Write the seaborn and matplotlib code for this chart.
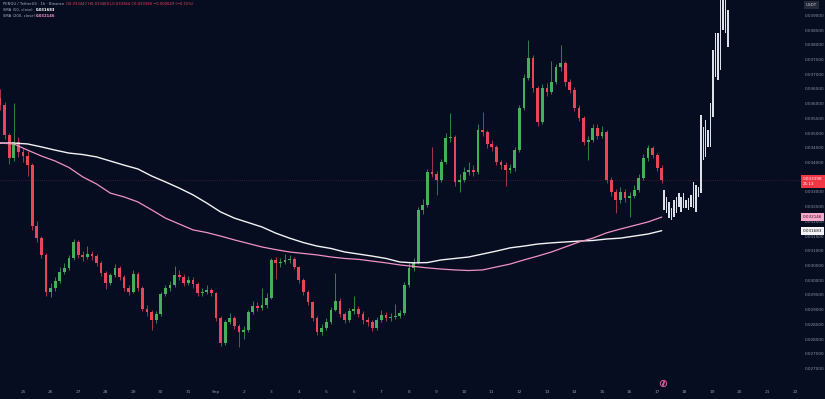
import numpy as np
import pandas as pd
import matplotlib
matplotlib.use("Agg")
import matplotlib.pyplot as plt
import matplotlib.dates as mdates
import matplotlib.transforms as mtransforms
import seaborn as sns

# PENGU/USDT, 4h candles, prices in units of 1e-5 USDT
open_first = 3620
close_e5 = [3595, 3493, 3415, 3470, 3436, 3422, 3391, 3184, 3144, 3086,
            2960, 2974, 2997, 3028, 3042, 3076, 3130, 3086, 3079, 3089,
            3082, 3059, 3025, 2991, 3018, 3042, 3011, 2974, 2960, 3021,
            2974, 2902, 2892, 2865, 2885, 2953, 2974, 2984, 3018, 3012,
            2991, 3001, 2987, 2957, 2960, 2966, 2955, 2872, 2787, 2858,
            2872, 2845, 2824, 2830, 2892, 2913, 2906, 2916, 2940, 3069,
            3059, 3062, 3069, 3072, 3045, 3001, 2960, 2926, 2872, 2824,
            2838, 2858, 2899, 2930, 2885, 2865, 2896, 2902, 2885, 2865,
            2858, 2838, 2865, 2882, 2872, 2876, 2879, 2889, 2984, 3042,
            3062, 3239, 3256, 3368, 3360, 3341, 3402, 3483, 3487, 3334,
            3341, 3368, 3375, 3368, 3510, 3505, 3463, 3453, 3402, 3391,
            3375, 3380, 3442, 3585, 3687, 3755, 3653, 3538, 3653, 3640,
            3673, 3724, 3738, 3673, 3646, 3585, 3551, 3470, 3476, 3517,
            3490, 3504, 3341, 3300, 3273, 3300, 3279, 3286, 3307, 3347,
            3415, 3449, 3425, 3381, 3339.8]
high_e5 = [3650, 3605, 3500, 3602, 3485, 3450, 3440, 3398, 3200, 3150,
           3092, 2990, 3010, 3045, 3060, 3085, 3140, 3135, 3100, 3115,
           3098, 3090, 3065, 3030, 3025, 3055, 3048, 3018, 2985, 3035,
           3028, 2980, 2915, 2898, 2895, 2960, 2985, 2998, 3050, 3035,
           3020, 3015, 3010, 2995, 2975, 2985, 2975, 2960, 2878, 2866,
           2890, 2880, 2852, 2845, 2900, 2930, 2925, 2975, 2955, 3075,
           3080, 3075, 3088, 3085, 3078, 3050, 3008, 2968, 2930, 2878,
           2850, 2872, 2910, 3024, 2940, 2892, 2905, 2945, 2912, 2895,
           2875, 2866, 2875, 2900, 2892, 2888, 2920, 2900, 2995, 3060,
           3075, 3248, 3275, 3378, 3452, 3372, 3412, 3500, 3567, 3495,
           3360, 3385, 3400, 3390, 3530, 3570, 3512, 3475, 3460, 3410,
           3400, 3395, 3452, 3595, 3700, 3816, 3765, 3660, 3665, 3670,
           3745, 3735, 3800, 3745, 3685, 3655, 3595, 3558, 3490, 3530,
           3530, 3525, 3512, 3350, 3310, 3318, 3310, 3300, 3322, 3360,
           3428, 3460, 3455, 3432, 3390]
low_e5 = [3580, 3480, 3395, 3405, 3420, 3400, 3355, 3170, 3130, 3075,
          2945, 2943, 2965, 2990, 3020, 3035, 3070, 3075, 3065, 3072,
          3070, 3050, 3015, 2970, 2985, 3010, 3000, 2962, 2950, 2955,
          2965, 2895, 2880, 2832, 2855, 2880, 2945, 2965, 2978, 3000,
          2980, 2985, 2975, 2945, 2948, 2952, 2945, 2860, 2775, 2780,
          2850, 2835, 2773, 2800, 2825, 2885, 2895, 2898, 2905, 2935,
          3005, 3045, 3055, 3060, 3038, 2990, 2950, 2915, 2860, 2815,
          2815, 2830, 2850, 2895, 2875, 2855, 2858, 2885, 2875, 2852,
          2845, 2828, 2832, 2858, 2862, 2862, 2868, 2872, 2882, 2978,
          3030, 3055, 3225, 3250, 3350, 3290, 3335, 3395, 3470, 3320,
          3300, 3335, 3358, 3355, 3362, 3490, 3450, 3440, 3390, 3378,
          3320, 3365, 3372, 3435, 3578, 3680, 3640, 3525, 3530, 3625,
          3632, 3665, 3712, 3660, 3635, 3575, 3540, 3458, 3410, 3468,
          3480, 3482, 3330, 3285, 3230, 3262, 3265, 3215, 3278, 3300,
          3340, 3405, 3415, 3372, 3330]

# moving averages, read every 12h
sma_white_e5 = [3466, 3466, 3463, 3453, 3442, 3432, 3427, 3419, 3405, 3391,
                3378, 3354, 3334, 3313, 3290, 3262, 3232, 3211, 3196, 3181,
                3160, 3143, 3128, 3116, 3108, 3096, 3089, 3082, 3074, 3062,
                3059, 3060, 3069, 3074, 3079, 3089, 3099, 3110, 3116, 3123,
                3127, 3130, 3133, 3135, 3140, 3143, 3150, 3157, 3168.3]
sma_pink_e5 = [3466, 3463, 3442, 3422, 3405, 3383, 3351, 3327, 3296, 3283,
               3266, 3239, 3211, 3191, 3171, 3162, 3150, 3137, 3125, 3113,
               3104, 3096, 3091, 3086, 3079, 3074, 3071, 3065, 3059, 3052,
               3047, 3042, 3038, 3035, 3033, 3035, 3045, 3055, 3069, 3082,
               3096, 3113, 3130, 3143, 3161, 3174, 3186, 3198, 3214.6]

# projected bars pattern (white), high / low
proj_high_e5 = [3307, 3283, 3266, 3245, 3273, 3283, 3296, 3283, 3296, 3273,
                3279, 3290, 3334, 3324, 3317, 3561, 3521, 3544, 3510, 3602,
                3782, 3840, 3840, 3990, 3990, 3990, 3918]
proj_low_e5 = [3239, 3228, 3211, 3205, 3215, 3228, 3249, 3232, 3245, 3245,
               3239, 3249, 3245, 3232, 3283, 3296, 3408, 3419, 3453, 3453,
               3555, 3690, 3680, 3714, 3850, 3840, 3792]

BG = "#070d21"
UP = "#45b05c"
DOWN = "#e8445a"
PINK = "#ef92c2"
TICK = "#8f96aa"

close = np.array(close_e5) / 1e5
high = np.array(high_e5) / 1e5
low = np.array(low_e5) / 1e5
opens = np.concatenate([[open_first / 1e5], close[:-1]])
white = np.array(sma_white_e5) / 1e5
pink = np.array(sma_pink_e5) / 1e5

t = pd.date_range("2025-08-24 04:00", periods=len(close), freq="4h")
x = mdates.date2num(t)
x_ma = x[::3]
x_proj = mdates.date2num(pd.date_range("2025-09-17 06:00", periods=len(proj_high_e5), freq="128min"))

sns.set_style("dark", {"axes.facecolor": BG, "figure.facecolor": BG, "axes.grid": False})
plt.rcParams['font.family'] = ['DejaVu Sans']

fig = plt.figure(figsize=(8.25, 3.99), dpi=100)
ax = fig.add_axes([0, 17 / 399, 800 / 825, 382 / 399])

# candles
colors = np.where(close >= opens, UP, DOWN)
ax.vlines(x, low, high, colors=colors, linewidth=0.5, zorder=2)
body = np.maximum(np.abs(close - opens), 0.000012)
ax.bar(x, body, bottom=np.minimum(opens, close), width=0.1, color=colors, linewidth=0, zorder=3)

# bars pattern
ph = np.array(proj_high_e5) / 1e5
pl = np.array(proj_low_e5) / 1e5
ax.bar(x_proj, ph - pl, bottom=pl, width=0.055, color="#dde0e8", linewidth=0, zorder=3)

# moving averages
sns.lineplot(x=x_ma, y=white, ax=ax, color="#f2f2f4", linewidth=1.0, zorder=4)
sns.lineplot(x=x_ma, y=pink, ax=ax, color=PINK, linewidth=0.9, zorder=4)

# last price line
ax.axhline(close[-1], color=DOWN, linewidth=0.5, linestyle=(0, (1, 2)), alpha=0.45, zorder=1)

day0 = mdates.date2num(pd.Timestamp("2025-08-25"))
ax.set_xlim(day0 - 0.834, day0 + 28.18)
ax.set_ylim(0.026543, 0.03952)

days = pd.date_range("2025-08-25", "2025-09-22", freq="D")
ax.set_xticks(mdates.date2num(days))
ax.set_xticklabels(["Sep" if d.day == 1 else str(d.day) for d in days])
yt = np.arange(0.027, 0.03901, 0.0005)
ax.set_yticks(yt)
# the 0.033500 label sits under the live price tag
ax.set_yticklabels(["" if abs(v - 0.0335) < 1e-7 else f"{v:.6f}" for v in yt])
ax.yaxis.tick_right()
ax.tick_params(axis="x", length=0, pad=6, labelsize=3.2, labelcolor=TICK)
ax.tick_params(axis="y", length=0, pad=3.5, labelsize=3.0, labelcolor=TICK)
for s in ax.spines.values():
    s.set_visible(False)
ax.set_xlabel("")
ax.set_ylabel("")

# price scale labels
blend = mtransforms.blended_transform_factory(ax.transAxes, ax.transData)
ax.annotate(f"{close[-1]:.6f}\n21:13", xy=(1, close[-1]), xycoords=blend, xytext=(2.2, 2.4),
            textcoords="offset points", ha="left", va="top", fontsize=3.0, color="white",
            linespacing=1.25, annotation_clip=False, zorder=10,
            bbox=dict(boxstyle="square,pad=0.45", fc="#f23645", ec="none"))
ax.annotate(f"{pink[-1]:.6f}", xy=(1, pink[-1]), xycoords=blend, xytext=(2.2, 0),
            textcoords="offset points", ha="left", va="center", fontsize=3.0, color="#3a0d22",
            annotation_clip=False, zorder=10,
            bbox=dict(boxstyle="square,pad=0.45", fc="#f4a9cb", ec="none"))
ax.annotate(f"{white[-1]:.6f}", xy=(1, white[-1]), xycoords=blend, xytext=(2.2, 0),
            textcoords="offset points", ha="left", va="center", fontsize=3.0, color="#111111",
            annotation_clip=False, zorder=10,
            bbox=dict(boxstyle="square,pad=0.45", fc="#f4f4f6", ec="none"))

fig.text(806 / 825, 1 - 5 / 399, "USDT", fontsize=3.0, color="#c8ccd6", ha="left", va="center",
         bbox=dict(boxstyle="square,pad=0.4", fc="#252a38", ec="none"))

# legend header
HF = 2.7
fig.text(3 / 825, 1 - 4 / 399, "PENGU / TetherUS · 1h · Binance", fontsize=HF, color="#aab0c0", va="center")
fig.text(66 / 825, 1 - 4 / 399, "O0.033447 H0.033469 L0.033364 C0.033398 −0.000049 (−0.15%)",
         fontsize=HF, color=DOWN, va="center")
fig.text(3 / 825, 1 - 10 / 399, "SMA (50, close)", fontsize=HF, color="#aab0c0", va="center")
fig.text(36 / 825, 1 - 10 / 399, f"{white[-1]:.6f}", fontsize=HF, color="white", weight="bold", va="center")
fig.text(3 / 825, 1 - 16 / 399, "SMA (200, close)", fontsize=HF, color="#aab0c0", va="center")
fig.text(36 / 825, 1 - 16 / 399, f"{pink[-1]:.6f}", fontsize=HF, color=PINK, weight="bold", va="center")

# jump-to-realtime icon
fig.add_artist(plt.Line2D([663 / 825], [1 - 383 / 399], marker="o", markersize=4.5, mfc="none",
                          mec="#e05a9a", mew=0.7, transform=fig.transFigure))
fig.add_artist(plt.Line2D([663 / 825], [1 - 383 / 399], marker="$/$", markersize=2.5,
                          color="#e05a9a", transform=fig.transFigure))

fig.savefig("out.png", dpi=100, facecolor=BG)
